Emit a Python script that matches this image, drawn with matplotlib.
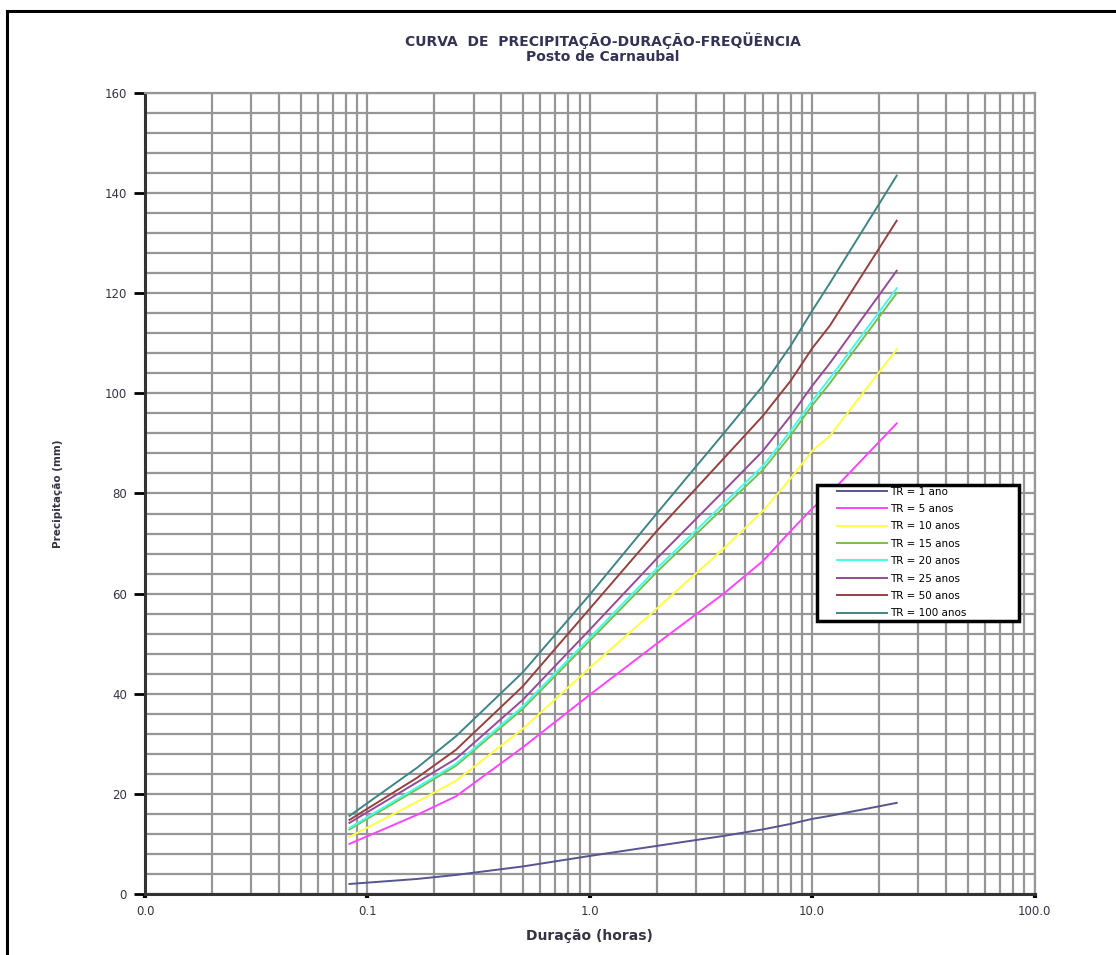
import numpy as np
import matplotlib
matplotlib.use("Agg")
import matplotlib.pyplot as plt
from matplotlib.lines import Line2D
from matplotlib.patches import Rectangle
from matplotlib.ticker import FixedLocator, NullFormatter

plt.rcParams['font.family'] = ['DejaVu Sans']

# duracao (horas)
dur = [0.083, 0.167, 0.25, 0.5, 1, 2, 4, 6, 8, 10, 12, 24]

tr1   = [2.0, 3.0, 3.8, 5.5, 7.6, 9.6, 11.6, 12.9, 14.0, 15.0, 15.6, 18.2]
tr5   = [10.0, 15.8, 19.5, 29.3, 39.8, 50.0, 60.0, 66.5, 72.5, 77.0, 80.0, 94.0]
tr10  = [11.4, 18.4, 22.6, 33.0, 45.2, 57.0, 69.0, 76.5, 83.0, 88.5, 91.5, 108.8]
tr15  = [12.9, 20.9, 25.6, 37.0, 50.6, 64.3, 77.2, 84.7, 91.6, 97.6, 102.0, 120.0]
tr20  = [13.2, 21.3, 26.0, 37.5, 51.2, 65.0, 78.0, 85.5, 92.5, 98.5, 103.0, 121.0]
tr25  = [14.2, 22.3, 27.0, 38.8, 52.8, 67.0, 80.5, 88.5, 95.5, 101.5, 106.0, 124.5]
tr50  = [14.8, 23.2, 28.8, 41.5, 57.0, 72.5, 87.0, 95.5, 102.5, 109.0, 113.5, 134.5]
tr100 = [15.6, 25.2, 31.5, 44.3, 59.8, 76.0, 92.0, 101.5, 109.5, 116.5, 122.0, 143.5]

series = [tr1, tr5, tr10, tr15, tr20, tr25, tr50, tr100]
labels = ['TR = 1 ano', 'TR = 5 anos', 'TR = 10 anos', 'TR = 15 anos',
          'TR = 20 anos', 'TR = 25 anos', 'TR = 50 anos', 'TR = 100 anos']
colors = ['#55558f', '#ff44ff', '#ffff44', '#77c050', '#44ffee',
          '#964a96', '#964040', '#3f8585']

xticks = [0.01, 0.1, 1, 10, 100]
xticklabels = ['0.0', '0.1', '1.0', '10.0', '100.0']
yticks = list(range(0, 161, 20))

fig = plt.figure(figsize=(11.16, 9.55), dpi=100)
ax = fig.add_axes([0.130, 0.0639, 0.797, 0.8387])

for y, lab, c in zip(series, labels, colors):
    ax.plot(dur, y, color=c, lw=1.4, label=lab, zorder=3)

ax.set_xscale('log')
ax.set_xlim(0.01, 100)
ax.set_ylim(0, 160)

minors = [m * 10.0 ** k for k in range(-2, 2) for m in range(2, 10)]
ax.xaxis.set_minor_locator(FixedLocator(minors))
ax.xaxis.set_minor_formatter(NullFormatter())
ax.set_xticks(xticks)
ax.set_xticklabels(xticklabels)
ax.set_yticks(yticks)
ax.set_yticks(np.arange(0, 161, 4), minor=True)

grid_c = '#969696'
ax.grid(True, which='both', axis='both', color=grid_c, lw=1.6, zorder=1)
ax.set_axisbelow(True)

ax.tick_params(axis='y', which='major', direction='out', length=8, width=2,
               color='black', labelsize=8.5, pad=5, labelcolor='#333344')
ax.tick_params(axis='x', which='major', direction='out', length=3, width=3,
               color='black', labelsize=8.5, pad=5, labelcolor='#333344')
ax.tick_params(which='minor', length=0)

for s in ['left', 'bottom']:
    ax.spines[s].set_color('#333333')
    ax.spines[s].set_linewidth(2.2)
for s in ['top', 'right']:
    ax.spines[s].set_color(grid_c)
    ax.spines[s].set_linewidth(1.6)

ax.set_xlabel('Duração (horas)', fontsize=10, fontweight='bold',
              color='#333344', labelpad=8)
ax.set_ylabel('Precipitação (mm)', fontsize=7.5, fontweight='bold',
              color='#333344', labelpad=30)

fig.text(0.540, 0.957, 'CURVA  DE  PRECIPITAÇÃO-DURAÇÃO-FREQÜÊNCIA',
         ha='center', va='center', fontsize=10, fontweight='bold', color='#333355')
fig.text(0.540, 0.940, 'Posto de Carnaubal', ha='center', va='center',
         fontsize=10, fontweight='bold', color='#333355')

# caixa da legenda
ax.add_patch(Rectangle((0.755, 0.3408), 0.228, 0.1698, transform=ax.transAxes,
                       facecolor='white', edgecolor='black', lw=2.5, zorder=4))
leg = ax.legend(loc='upper left', bbox_to_anchor=(0.7775, 0.5087), fontsize=7.5,
                handlelength=4.8, handletextpad=0.3, labelspacing=0.71,
                borderpad=0, borderaxespad=0, frameon=False)
leg.set_zorder(5)

# moldura da pagina
fig.add_artist(Line2D([7/1116, 7/1116], [0, 1 - 11/955], transform=fig.transFigure,
                      color='black', lw=2.2))
fig.add_artist(Line2D([7/1116, 1], [1 - 11/955, 1 - 11/955], transform=fig.transFigure,
                      color='black', lw=2.2))

fig.savefig('out.png', dpi=100)
